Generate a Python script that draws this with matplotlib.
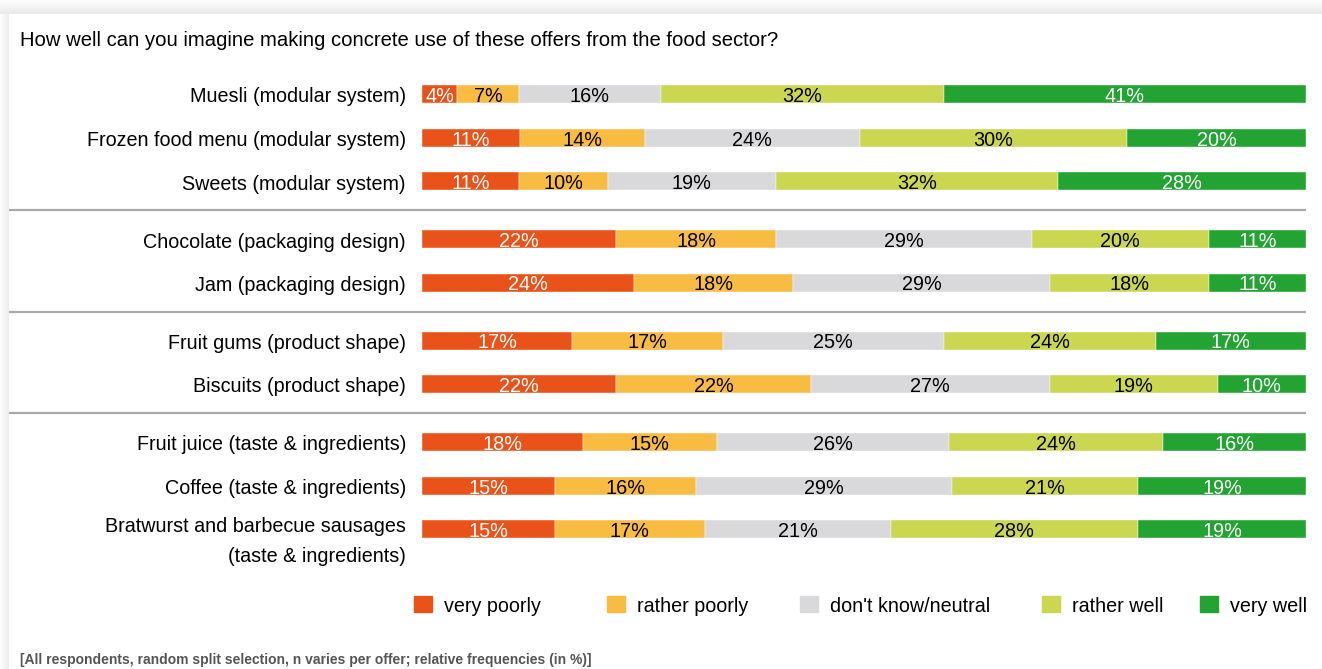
import numpy as np
import matplotlib.pyplot as plt
from matplotlib.patches import Rectangle

plt.rcParams['font.family'] = ['Liberation Sans', 'DejaVu Sans']

# Survey offers, grouped by kind of offer
offers = [
    "Muesli (modular system)",
    "Frozen food menu (modular system)",
    "Sweets (modular system)",
    "Chocolate (packaging design)",
    "Jam (packaging design)",
    "Fruit gums (product shape)",
    "Biscuits (product shape)",
    "Fruit juice (taste & ingredients)",
    "Coffee (taste & ingredients)",
    "Bratwurst and barbecue sausages\n(taste & ingredients)",
]
group_sizes = [3, 2, 2, 3]

answers = ["very poorly", "rather poorly", "don't know/neutral", "rather well", "very well"]
very_poorly = [4, 11, 11, 22, 24, 17, 22, 18, 15, 15]
rather_poorly = [7, 14, 10, 18, 18, 17, 22, 15, 16, 17]
neutral = [16, 24, 19, 29, 29, 25, 27, 26, 29, 21]
rather_well = [32, 30, 32, 20, 18, 24, 19, 24, 21, 28]
very_well = [41, 20, 28, 11, 11, 17, 10, 16, 19, 19]

colors = ["#E95218", "#F9BC43", "#D9D9DB", "#CBD651", "#22A332"]
text_colors = ["white", "black", "black", "black", "white"]

W, H = 1322, 669
fig = plt.figure(figsize=(W / 100, H / 100), dpi=100)

# card background with soft shadow on top and left
bg = fig.add_axes([0, 0, 1, 1])
bg.set_xlim(0, W)
bg.set_ylim(H, 0)
bg.axis('off')
shade = np.ones((H, W))
shade[:14, :] = (0.99 - 0.08 * (np.arange(14) / 14.0))[:, None]
shade[14:, :9] = np.minimum(shade[14:, :9], (0.99 - 0.07 * (np.arange(9) / 9.0))[None, :])
bg.imshow(shade, cmap='gray', vmin=0, vmax=1, extent=(0, W, H, 0), aspect='auto')

# bar area: x in percent, y in pixel rows
ax = fig.add_axes([422 / W, 0, 884 / W, 1])
ax.set_xlim(0, 100)
ax.set_ylim(H, 0)
ax.axis('off')

row_step = 43.5
group_gap = 14.5
y0 = 94
ypos = []
seps = []
y = y0
for gi, n in enumerate(group_sizes):
    for i in range(n):
        ypos.append(y)
        y += row_step
    if gi < len(group_sizes) - 1:
        seps.append(y - row_step + (row_step + group_gap) / 2)
        y += group_gap
ypos = np.array(ypos)

data = np.array([very_poorly, rather_poorly, neutral, rather_well, very_well], dtype=float)
shares = data / data.sum(axis=0) * 100
left_edge = np.zeros(len(offers))
for k in range(len(answers)):
    ax.barh(ypos, shares[k], left=left_edge, height=18, color=colors[k],
            edgecolor='white', linewidth=0.3)
    for j in range(len(offers)):
        ax.text(left_edge[j] + shares[k][j] / 2, ypos[j] + 2.5, f"{int(data[k][j])}%",
                ha='center', va='center', fontsize=14.3, color=text_colors[k])
    left_edge += shares[k]

# offer labels to the left of the bars
x_lab = (406 - 422) / 884 * 100
for j, name in enumerate(offers):
    dy = -11.5 if "\n" in name else -6.5
    ax.text(x_lab, ypos[j] + dy, name, ha='right', va='top', fontsize=14.2,
            linespacing=1.68, clip_on=False)

# separators between offer groups
x_sep0 = (9 - 422) / 884 * 100
for s in seps:
    ax.plot([x_sep0, 100], [s, s], color='#A9A9A9', lw=1.6, clip_on=False,
            solid_capstyle='butt')

fig.text(20 / W, 1 - 41 / H, "How well can you imagine making concrete use of these offers from the food sector?",
         ha='left', va='center', fontsize=14.6)

# legend
leg_x = [414, 607, 800, 1042, 1200]
for k, name in enumerate(answers):
    bg.add_patch(Rectangle((leg_x[k], 596), 18, 16, color=colors[k]))
    bg.text(leg_x[k] + 30, 606, name, ha='left', va='center', fontsize=14.2)

fig.text(20 / W, 1 - 660 / H,
         "[All respondents, random split selection, n varies per offer; relative frequencies (in %)]",
         ha='left', va='center', fontsize=10, fontweight='bold', color='#555555')

fig.savefig('out.png', dpi=100)
